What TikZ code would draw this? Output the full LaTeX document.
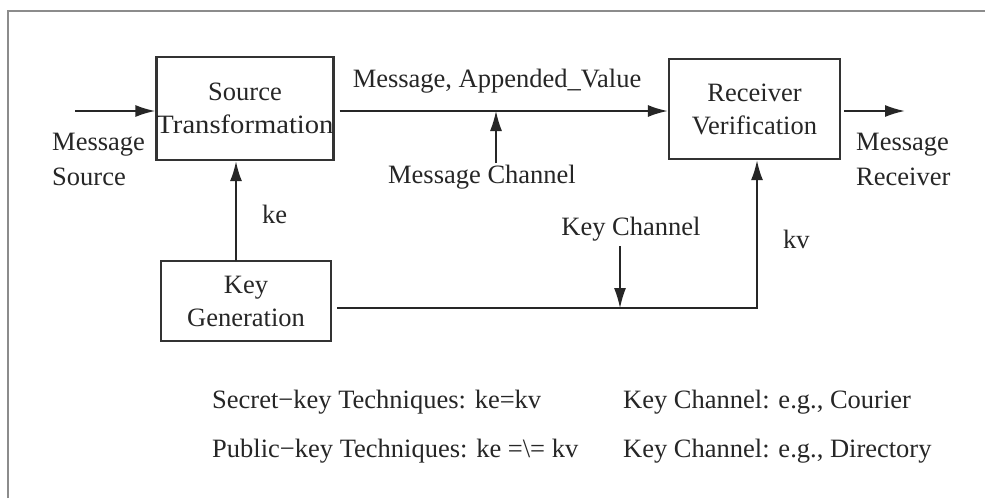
\documentclass[tikz,border=0pt]{standalone}
\usepackage{fontspec}
\usepackage{graphicx}
\setmainfont{Liberation Serif}
\usetikzlibrary{arrows.meta,calc}
\begin{document}
\begin{tikzpicture}[x=1pt,y=-1pt,
  every node/.style={font=\fontsize{26.5}{33}\selectfont, text=black!85, inner sep=0pt},
  blockbox/.style={draw=black!80, line width=2.2pt, align=center, inner sep=0pt},
  mainline/.style={draw=black!85, line width=2pt},
  arr/.style={mainline, -{Latex[length=20pt,width=12pt]}},
  thinarr/.style={draw=black!85, line width=1.3pt, -{Latex[length=20pt,width=12pt]}},
  lbl/.style={anchor=base west},
  lblc/.style={anchor=base}]
\useasboundingbox (0,0) rectangle (985,498);
\fill[white] (0,0) rectangle (985,498);
% frame
\draw[black!45, line width=2pt] (8,498) -- (8,11) -- (985,11);

% blocks
\node[blockbox, minimum width=170pt, minimum height=103pt] (st) at (245,108.5)
  {Source\\\scalebox{1.08}[1]{Transformation}};
\node[blockbox, minimum width=171pt, minimum height=100pt] (rv) at (754.5,109)
  {Receiver\\Verification};
\node[blockbox, minimum width=170pt, minimum height=80pt] (kg) at (246,301)
  {Key\\Generation};

% helper coordinates
\coordinate (my) at (0,111);
\coordinate (ky) at (0,308);
\coordinate (inS) at (75,111);
\coordinate (outE) at (905,111);
\coordinate (kx) at (236,261);
\coordinate (mc) at (496,163);
\coordinate (kc) at (620,246);
\coordinate (kvx) at (757,0);

% message path
\draw[arr] (inS) -- (st.west |- my);
\draw[arr] ([xshift=5pt]st.east |- my) -- (rv.west |- my);
\draw[arr] ([xshift=3pt]rv.east |- my) -- (outE);
\draw[thinarr] (mc) -- (mc |- my);

% key path
\draw[arr] (kx) -- (kx |- st.south);
\draw[mainline, -{Latex[length=20pt,width=12pt]}]
  ([xshift=5pt]kg.east |- ky) -- (kvx |- ky) -- (kvx |- rv.south);
\draw[thinarr] (kc) -- (kc |- ky);

% labels
\node[lbl] (ms1) at (52,150) {Message};
\node[lbl] (ms2) at (52,185) {Source};
\node[lbl] (mr1) at (856,150) {Message};
\node[lbl] (mr2) at (856,185) {Receiver};
\node[lblc] (mav) at (497,87) {Message, Appended\_Value};
\node[lblc] (mcl) at (482,183) {Message Channel};
\node[lbl] (ke) at (262,223) {ke};
\node[lblc] (kcl) at (631,235) {Key Channel};
\node[lbl] (kv) at (783,248) {kv};

% bottom notes
\node[lbl] (n1) at (212,408) {Secret−key Techniques: ke=kv};
\node[lbl] (n2) at (623,408) {Key Channel: e.g., Courier};
\node[lbl] (n3) at (212,457) {Public−key Techniques: ke =\textbackslash= kv};
\node[lbl] (n4) at (623,457) {Key Channel: e.g., Directory};
\end{tikzpicture}
\end{document}
